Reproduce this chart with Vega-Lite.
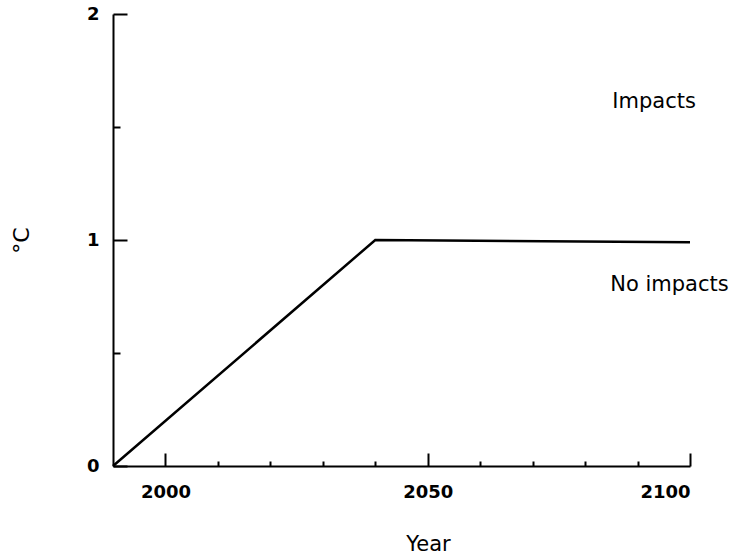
{
  "$schema": "https://vega.github.io/schema/vega-lite/v6.json",
  "width": 577,
  "height": 452,
  "autosize": {"type": "none"},
  "padding": {"left": 113, "top": 14, "right": 52, "bottom": 90},
  "background": "white",
  "config": {
    "view": {"stroke": null},
    "font": "DejaVu Sans",
    "axis": {"domainColor": "black", "tickColor": "black", "domainWidth": 2, "tickWidth": 2, "grid": false, "labelColor": "black", "titleColor": "black", "labelFont": "DejaVu Sans", "labelFontWeight": "bold", "labelFontSize": 18, "labelOverlap": false, "labelBound": false}
  },
  "datasets": {
    "series": [
      {"year": 1990, "temp": 0},
      {"year": 2040, "temp": 1},
      {"year": 2100, "temp": 0.99}
    ],
    "labels": [
      {"year": 2085.2, "temp": 1.61, "text": "Impacts"},
      {"year": 2084.8, "temp": 0.8, "text": "No impacts"}
    ]
  },
  "layer": [
    {
      "data": {"name": "labels"},
      "mark": {"type": "text", "align": "left", "baseline": "middle", "fontSize": 21, "font": "DejaVu Sans", "color": "black"},
      "encoding": {
        "x": {"field": "year", "type": "quantitative", "scale": {"domain": [1990, 2100], "nice": false, "zero": false},
          "axis": {"orient": "bottom", "values": [2000, 2050, 2100], "tickSize": -13, "labelPadding": 30, "labelBaseline": "top", "labelExpr": "'' + datum.value", "title": "Year", "titleFontSize": 21, "titleFontWeight": "normal", "titleFont": "DejaVu Sans", "titleX": 315, "titleY": 78, "titleAlign": "center", "titleBaseline": "middle"}},
        "y": {"field": "temp", "type": "quantitative", "scale": {"domain": [0, 2], "nice": false, "zero": false},
          "axis": {"orient": "left", "values": [0, 1, 2], "tickSize": -14, "labelPadding": 28, "labelExpr": "'' + datum.value", "title": "°C", "titleFontSize": 22, "titleFontWeight": "normal", "titleFont": "DejaVu Sans", "titleX": -92, "titleY": 226, "titleAngle": -90, "titleAlign": "center", "titleBaseline": "middle"}},
        "text": {"field": "text"}
      }
    },
    {
      "data": {"name": "series"},
      "mark": {"type": "line", "color": "black", "strokeWidth": 2.5},
      "encoding": {
        "x": {"field": "year", "type": "quantitative",
          "axis": {"orient": "bottom", "values": [2010, 2020, 2030, 2040, 2060, 2070, 2080, 2090], "tickSize": -5, "labels": false, "domain": false, "title": null}},
        "y": {"field": "temp", "type": "quantitative",
          "axis": {"orient": "left", "values": [0.5, 1.5], "tickSize": -7, "labels": false, "domain": false, "title": null}}
      }
    }
  ],
  "resolve": {"axis": {"x": "independent", "y": "independent"}}
}
